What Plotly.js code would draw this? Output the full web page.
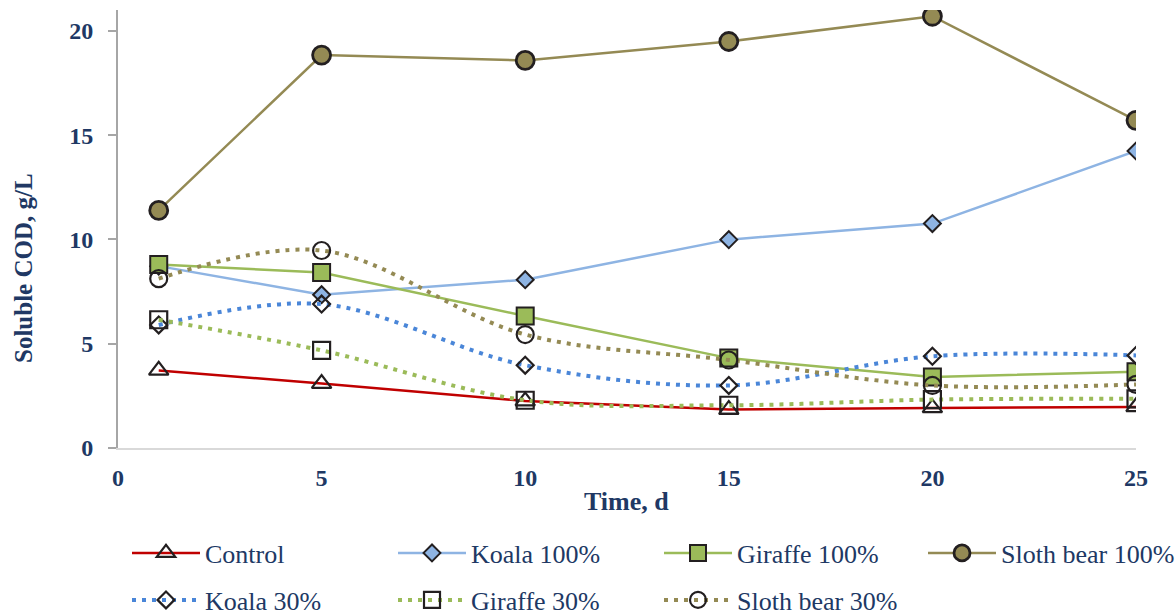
<!DOCTYPE html>
<html>
<head>
<meta charset="utf-8">
<script src="https://cdn.plot.ly/plotly-3.0.1.min.js"></script>
<style>html,body{margin:0;padding:0;background:#fff;}#chart{width:1175px;height:616px;}</style>
</head>
<body>
<div id="chart"></div>
<script>
// ---- data ----
const days = [1, 5, 10, 15, 20, 25];
const seriesNames = ["Control", "Koala 100%", "Giraffe 100%", "Sloth bear 100%", "Koala 30%", "Giraffe 30%", "Sloth bear 30%"];
const control      = [3.72, 3.09, 2.25, 1.84, 1.92, 1.97];
const koala100     = [8.72, 7.35, 8.07, 9.99, 10.76, 14.24];
const giraffe100   = [8.8, 8.41, 6.33, 4.31, 3.40, 3.66];
const slothBear100 = [11.39, 18.84, 18.58, 19.49, 20.7, 15.71];
const koala30      = [5.9, 6.9, 3.97, 3.0, 4.4, 4.44];
const giraffe30    = [6.15, 4.68, 2.29, 2.05, 2.32, 2.36];
const slothBear30  = [8.12, 9.47, 5.44, 4.22, 3.0, 3.05];
const xTicks = [0, 5, 10, 15, 20, 25];
const yTicks = [0, 5, 10, 15, 20];
const xTitle = "Time, d";
const yTitle = "Soluble COD, g/L";

// ---- styling ----
const txt = "#203864";
const font = "Liberation Serif, Times New Roman, serif";
const clear = "rgba(0,0,0,0)";
const W = 1175, H = 616;
const L = 118, R = 1136, T = 10, B = 448;
const PW = R - L, PH = B - T;

function tr(name, y, lineColor, dash, symbol, size, fill, shape, lw, mlw, legendId) {
  return {
    type: "scatter", mode: "lines+markers", name: name, x: days, y: y,
    line: {color: lineColor, width: lw, dash: dash, shape: shape, smoothing: 1},
    marker: {symbol: symbol, size: size, color: fill, line: {color: "#231F20", width: mlw}},
    legend: legendId
  };
}
const data = [
  tr(seriesNames[0], control,      "#C00000", "solid", "triangle-up", 17, clear,     "linear", 2.5, 2.2, "legend"),
  tr(seriesNames[1], koala100,     "#8EB4E3", "solid", "diamond",     13, "#8EB4E3", "linear", 2.5, 2,   "legend2"),
  tr(seriesNames[2], giraffe100,   "#9BBB59", "solid", "square",      17, "#9BBB59", "linear", 2.5, 2,   "legend3"),
  tr(seriesNames[3], slothBear100, "#948A54", "solid", "circle",      18, "#948A54", "linear", 2.5, 2.8, "legend4"),
  tr(seriesNames[4], koala30,      "#4A86D8", "4px,6px", "diamond",   13, clear,     "spline", 4,   2.2, "legend5"),
  tr(seriesNames[5], giraffe30,    "#9BBB59", "4px,6px", "square",    17, clear,     "spline", 4,   2.2, "legend6"),
  tr(seriesNames[6], slothBear30,  "#948A54", "4px,6px", "circle",    17, clear,     "spline", 4,   2.2, "legend7")
];

// legend item anchor positions (pixel line start, pixel center y)
const legPos = [[132, 553], [398, 553], [664, 553], [928, 553], [132, 600], [398, 600], [664, 600]];
function px2x(p) { return (p - L) / PW; }
function px2y(p) { return (B - p) / PH; }

const layout = {
  width: W, height: H,
  margin: {l: L, r: W - R, t: T, b: H - B, pad: 0},
  paper_bgcolor: "#fff", plot_bgcolor: "#fff",
  showlegend: true,
  xaxis: {
    range: [0, 25], tickvals: xTicks, ticktext: xTicks.map(String), automargin: false,
    showgrid: false, zeroline: false, showline: true, linecolor: "#D9D9D9", linewidth: 2,
    ticks: "", ticklabelstandoff: 7,
    tickfont: {family: font, size: 24, color: txt, weight: "bold"}
  },
  yaxis: {
    range: [0, 21], tickvals: yTicks, ticktext: yTicks.map(String), automargin: false,
    showgrid: false, zeroline: false, showline: true, linecolor: "#A6A6A6", linewidth: 2,
    ticks: "outside", ticklen: 8, tickcolor: "#A6A6A6", tickwidth: 2, ticklabelstandoff: 10,
    tickfont: {family: font, size: 24, color: txt, weight: "bold"}
  },
  annotations: [
    {text: "<b>" + xTitle + "</b>", xref: "paper", yref: "paper", x: px2x(626), y: px2y(501),
     xanchor: "center", yanchor: "middle", showarrow: false, font: {family: font, size: 26, color: txt}},
    {text: "<b>" + yTitle + "</b>", xref: "paper", yref: "paper", x: px2x(23), y: px2y(268),
     xanchor: "center", yanchor: "middle", textangle: -90, showarrow: false, font: {family: font, size: 25, color: txt}}
  ]
};
legPos.forEach(function(p, i) {
  const key = i === 0 ? "legend" : "legend" + (i + 1);
  layout[key] = {
    orientation: "h", xref: "container", yref: "container",
    x: (p[0] - 5) / W, xanchor: "left", y: 1 - p[1] / H, yanchor: "middle",
    font: {family: font, size: 26, color: txt}, itemwidth: 68, bgcolor: clear, borderwidth: 0
  };
});

Plotly.newPlot("chart", data, layout, {displayModeBar: false, staticPlot: true});
</script>
</body>
</html>
